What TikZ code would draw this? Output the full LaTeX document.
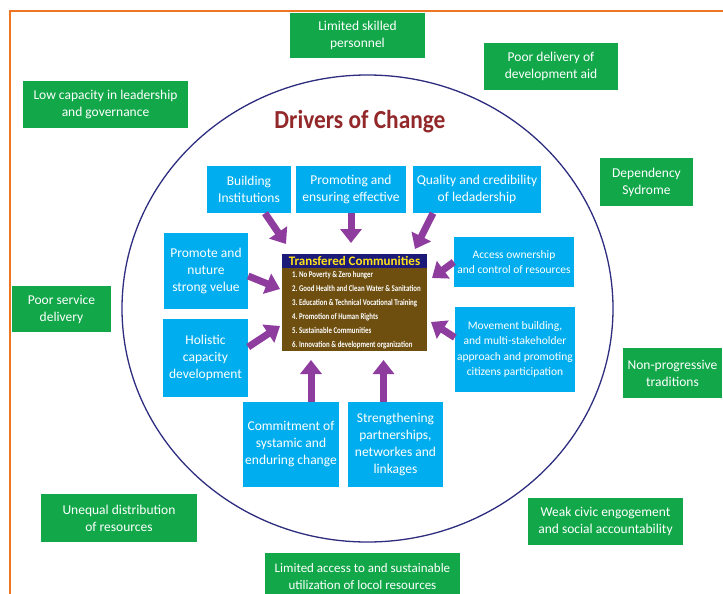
\documentclass[tikz,border=0pt]{standalone}
\usepackage{fontspec}
\setmainfont{Carlito}
\newfontfamily\condfont[FakeStretch=0.78]{Carlito}
\newfontfamily\titlefont[FakeStretch=0.9]{Carlito}
\usetikzlibrary{arrows.meta}
\definecolor{gbox}{HTML}{12A84A}
\definecolor{bbox}{HTML}{00AEEF}
\definecolor{purp}{HTML}{8E3D9E}
\definecolor{ring}{HTML}{2E2D7F}
\definecolor{orng}{HTML}{EE7623}
\definecolor{ttl}{HTML}{93282A}
\definecolor{navy}{HTML}{1B1A78}
\definecolor{brwn}{HTML}{6E4F10}
\definecolor{yel}{HTML}{FFE11A}
\begin{document}
\begin{tikzpicture}[x=1pt,y=-1pt,
 gbx/.style={fill=gbox,text=white,inner sep=0pt,align=center,font=\fontsize{13.5}{17}\selectfont},
 bbx/.style={fill=bbox,text=white,inner sep=0pt,align=center,font=\fontsize{13.5}{17}\selectfont},
 bbs/.style={bbx,font=\fontsize{11.5}{15.5}\selectfont},
 sz/.style 2 args={minimum width=#1pt,minimum height=#2pt},
 arr/.style={draw=purp,line width=7pt,-{Triangle[length=14pt,width=21pt]}}]
\useasboundingbox (0,0) rectangle (723,594);
\fill[white] (0,0) rectangle (723,594);
% frame
\draw[orng,line width=2.2pt] (10,595) -- (10,11) -- (724,11);
% ring
\draw[ring,line width=1.3pt] (367.5,308.5) ellipse [x radius=245.5pt, y radius=233.5pt];
% title
\node[font=\titlefont\bfseries\fontsize{26}{26}\selectfont,text=ttl,anchor=base,inner sep=0pt] (title) at (360,128.5) {Drivers of Change};
% green boxes
\node[gbx,sz={135}{45}] (g1) at (357.5,35.5) {Limited skilled\\personnel};
\node[gbx,sz={134}{47}] (g2) at (551,66.5) {Poor delivery of\\development aid};
\node[gbx,sz={165}{47}] (g3) at (105.5,104.5) {Low capacity in leadership\\and governance};
\node[gbx,sz={93}{48}] (g4) at (646.5,182) {Dependency\\Sydrome};
\node[gbx,sz={99}{46}] (g5) at (61.5,309) {Poor service\\delivery};
\node[gbx,sz={99}{50}] (g6) at (672.5,373) {Non-progressive\\traditions};
\node[gbx,sz={156}{48}] (g7) at (119,518) {Unequal distribution\\of resources};
\node[gbx,sz={155}{47}] (g8) at (605.5,521.5) {Weak civic engogement\\and social accountability};
\node[gbx,sz={195}{47},font=\fontsize{13}{17}\selectfont] (g9) at (362.5,576.5) {Limited access to and sustainable\\utilization of locol resources};
% blue boxes
\node[bbx,sz={84}{47}] (b1) at (249,189.5) {Building\\Institutions};
\node[bbx,sz={110}{47}] (b2) at (351,189.5) {Promoting and\\ensuring effective};
\node[bbx,sz={128}{47}] (b3) at (477,189.5) {Quality and credibility\\of ledadership};
\node[bbx,sz={84}{76}] (b4) at (206,271) {Promote and\\nuture\\strong velue};
\node[bbs,sz={120}{50}] (b5) at (514,262) {Access ownership\\and control of resources};
\node[bbx,sz={85}{78}] (b6) at (205.5,358) {Holistic\\capacity\\development};
\node[bbs,sz={120}{85}] (b7) at (515,349.5) {Movement building,\\and multi-stakeholder\\approach and promoting\\citizens participation};
\node[bbx,sz={96}{85}] (b8) at (291,444.5) {Commitment of\\systamic and\\enduring change};
\node[bbx,sz={95}{85}] (b9) at (395.5,444.5) {Strengthening\\partnerships,\\networkes and\\linkages};
% centre box
\node[fill=brwn,inner sep=0pt,sz={145}{97}] (c) at (354.5,302.5) {};
\fill[navy] (c.north west) rectangle ([yshift=-14pt]c.north east);
\node[font=\bfseries\fontsize{13}{13}\selectfont,text=yel,inner sep=0pt] (ct) at (354.5,261) {Transfered Communities};
\node[font=\condfont\bfseries\fontsize{8.8}{14}\selectfont,text=white,align=left,anchor=west,inner sep=0pt] (items) at (292,310)
 {1.\ No Poverty \& Zero hunger\\
  2.\ Good Health and Clean Water \& Sanitation\\
  3.\ Education \& Technical Vocational Training\\
  4.\ Promotion of Human Rights\\
  5.\ Sustainable Communities\\
  6.\ Innovation \& development organization};
% arrow tips
\coordinate (t1) at (286,244);
\coordinate (t2) at (351,243);
\coordinate (t3) at (415,249);
\coordinate (t4) at (280,289);
\coordinate (t5) at (432,278);
\coordinate (t6) at (280,326);
\coordinate (t7) at (431,322);
\coordinate (t8) at (311,360);
\coordinate (t9) at (383.5,360);
\draw[arr] ([xshift=16pt]b1.south) -- (t1);
\draw[arr] (b2.south) -- (t2);
\draw[arr] ([xshift=-44pt]b3.south) -- (t3);
\draw[arr] ([yshift=-5pt]b4.east) -- (t4);
\draw[arr] (b5.west) -- (t5);
\draw[arr] ([yshift=11pt]b6.east) -- (t6);
\draw[arr] ([yshift=12pt]b7.west) -- (t7);
\draw[arr] ([xshift=20pt]b8.north) -- (t8);
\draw[arr] ([xshift=-12pt]b9.north) -- (t9);
\end{tikzpicture}
\end{document}
